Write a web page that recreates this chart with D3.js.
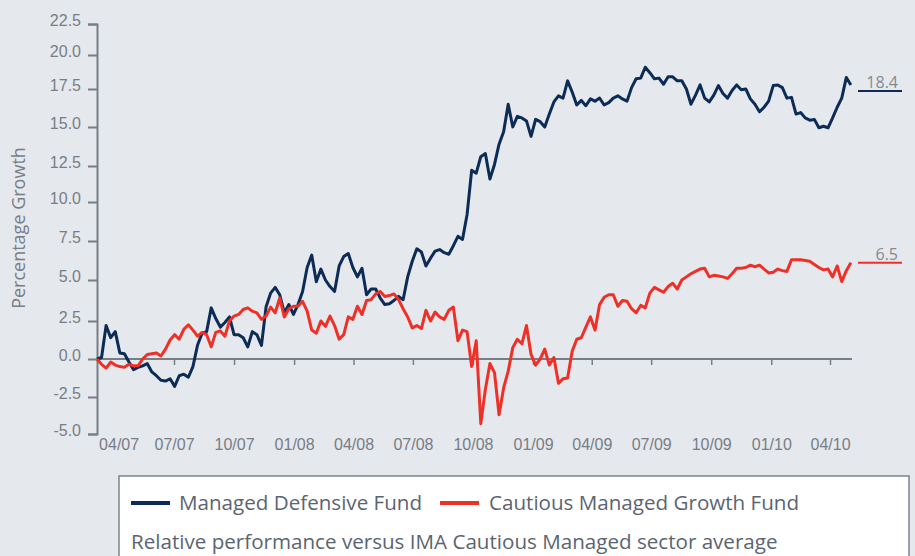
<!DOCTYPE html>
<html>
<head>
<meta charset="utf-8">
<script src="https://cdn.jsdelivr.net/npm/d3@7"></script>
<style>
  body { margin: 0; background: #e5e8ed; }
  svg { display: block; }
</style>
</head>
<body>
<div id="chart"></div>
<script>
// weekly readings, first week starting 5 March 2007
var startDate = new Date(2007, 2, 5);

var defensive = [
  0, 0.1, 2.2, 1.4, 1.8, 0.4, 0.35, -0.2, -0.7, -0.55,
  -0.45, -0.3, -0.85, -1.1, -1.4, -1.45, -1.3, -1.8, -1.1, -1.0,
  -1.2, -0.5, 0.9, 1.7, 1.8, 3.3, 2.65, 2.1, 2.4, 2.75,
  1.6, 1.6, 1.4, 0.8, 1.8, 1.6, 0.9, 3.35, 4.2, 4.55,
  4.1, 3.0, 3.5, 2.9, 3.5, 4.3, 5.8, 6.6, 4.9, 5.7,
  5.0, 4.6, 4.3, 5.9, 6.5, 6.7, 5.8, 5.2, 5.75, 4.1,
  4.45, 4.45, 3.9, 3.5, 3.55, 3.75, 4.0, 3.8, 5.2, 6.2,
  7.0, 6.8, 5.9, 6.4, 6.85, 6.95, 6.75, 6.65, 7.2, 7.8,
  7.6, 9.2, 12.2, 12.0, 13.1, 13.3, 11.6, 12.6, 13.9, 14.7,
  16.5, 15.0, 15.7, 15.6, 15.4, 14.4, 15.5, 15.35, 15.0, 15.85,
  16.65, 17.05, 16.9, 18.1, 17.3, 16.45, 16.75, 16.4, 16.85, 16.7,
  16.9, 16.45, 16.6, 16.9, 17.05, 16.85, 16.7, 17.6, 18.25, 18.3,
  19.1, 18.7, 18.25, 18.3, 17.85, 18.4, 18.4, 18.1, 18.1, 17.5,
  16.5, 17.1, 17.8, 16.9, 16.65, 17.1, 17.75, 17.2, 16.9, 17.4,
  17.8, 17.45, 17.5, 16.85, 16.5, 16.0, 16.3, 16.7, 17.75, 17.8,
  17.6, 16.9, 16.95, 15.85, 15.95, 15.6, 15.45, 15.5, 14.95, 15.05,
  14.95, 15.6, 16.3, 16.9, 18.35, 17.8
];

var cautious = [
  0, -0.35, -0.6, -0.2, -0.4, -0.5, -0.55, -0.35, -0.45, -0.45,
  0, 0.3, 0.35, 0.4, 0.2, 0.65, 1.25, 1.6, 1.3, 1.95,
  2.25, 1.9, 1.5, 1.75, 1.6, 0.8, 1.75, 1.85, 1.5, 2.5,
  2.8, 2.9, 3.2, 3.3, 3.1, 3.0, 2.6, 2.8, 3.35, 3.0,
  3.9, 2.75, 3.25, 3.4, 3.4, 3.7, 3.1, 1.9, 1.7, 2.5,
  2.15, 2.8, 2.2, 1.3, 1.6, 2.75, 2.6, 3.4, 2.9, 3.75,
  3.8, 4.15, 4.3, 4.0, 4.05, 4.15, 3.8, 3.25, 2.75, 2.05,
  2.2, 2.0, 3.15, 2.5, 3.05, 2.75, 2.6, 3.15, 3.35, 1.2,
  1.9, 1.8, -0.5, 1.2, -4.3, -2.0, -0.3, -0.9, -3.7, -1.9,
  -0.8, 0.75, 1.3, 1.0, 2.2, 0.3, -0.4, 0.0, 0.65, -0.4,
  0.1, -1.6, -1.3, -1.25, 0.5, 1.3, 1.4, 2.1, 2.75, 1.9,
  3.5, 3.95, 4.1, 4.1, 3.4, 3.75, 3.7, 3.25, 3.0, 3.45,
  3.3, 4.2, 4.55, 4.4, 4.25, 4.6, 4.8, 4.45, 5.0, 5.2,
  5.4, 5.55, 5.7, 5.75, 5.2, 5.3, 5.25, 5.2, 5.1, 5.4,
  5.75, 5.75, 5.8, 5.95, 5.85, 5.95, 5.7, 5.45, 5.5, 5.7,
  5.6, 5.55, 6.3, 6.3, 6.3, 6.25, 6.2, 6.0, 5.8, 5.65,
  5.7, 5.2, 5.9, 4.9, 5.6, 6.1
];

var yTicks = [-5, -2.5, 0, 2.5, 5, 7.5, 10, 12.5, 15, 17.5, 20, 22.5];
var endLabels = ["18.4", "6.5"];
var seriesNames = ["Managed Defensive Fund", "Cautious Managed Growth Fund"];
var footnote = "Relative performance versus IMA Cautious Managed sector average";

var navy = "#0c2c55",
  red = "#ee3027",
  grey = "#787e85";

var width = 915,
  height = 556;

var svg = d3.select("#chart")
  .append("svg")
  .attr("width", width)
  .attr("height", height)
  .style("font-family", "'Open Sans', sans-serif");

svg.append("rect")
  .attr("width", width)
  .attr("height", height)
  .attr("fill", "#e5e8ed");

var x = d3.scaleTime()
  .domain([new Date(2007, 6, 1), new Date(2010, 3, 1)])
  .range([174, 830]);

// the printed axis is not evenly spaced, so map each tick to where it sits
var y = d3.scaleLinear()
  .domain(yTicks)
  .range([434, 397, 359, 321, 280, 241, 202, 166, 127, 89, 55, 24]);

var dates = defensive.map(function (d, i) { return d3.timeDay.offset(startDate, 7 * i); });

// y axis
var yAxis = svg.append("g")
  .attr("transform", "translate(97,0)")
  .call(d3.axisLeft(y)
    .tickValues(yTicks)
    .tickSizeInner(9)
    .tickSizeOuter(9)
    .tickPadding(7)
    .tickFormat(function (d) { return d.toFixed(1); }));

yAxis.select(".domain").attr("stroke", grey).attr("stroke-width", 2);
yAxis.selectAll(".tick line").attr("stroke", grey).attr("stroke-width", 2);
yAxis.selectAll(".tick text")
  .attr("fill", grey)
  .attr("dy", "0.1em")
  .style("font-size", "16px");

svg.append("text")
  .attr("transform", "translate(25,228) rotate(-90)")
  .attr("text-anchor", "middle")
  .attr("fill", grey)
  .style("font-size", "18px")
  .text("Percentage Growth");

// zero line with quarter ticks
svg.append("line")
  .attr("x1", 97)
  .attr("x2", 852)
  .attr("y1", y(0))
  .attr("y2", y(0))
  .attr("stroke", grey)
  .attr("stroke-width", 2);

var quarters = d3.timeMonth.every(3).range(new Date(2007, 3, 1), new Date(2010, 3, 2));

var xTicks = svg.append("g")
  .attr("transform", "translate(0," + y(0) + ")")
  .call(d3.axisBottom(x).tickValues(quarters.slice(1)).tickSize(6).tickFormat(""));
xTicks.select(".domain").remove();
xTicks.selectAll(".tick line").attr("stroke", grey).attr("stroke-width", 1.5);

var xLabels = svg.append("g")
  .attr("transform", "translate(0,434)")
  .call(d3.axisBottom(x).tickValues(quarters).tickSize(0).tickPadding(0)
    .tickFormat(d3.timeFormat("%m/%y")));
xLabels.select(".domain").remove();
xLabels.selectAll(".tick text")
  .attr("fill", grey)
  .attr("dy", "1em")
  .attr("dx", function (d, i) { return i === 0 ? 4 : 0; })
  .style("font-size", "16px");

// lines
var line = d3.line()
  .x(function (d, i) { return x(dates[i]); })
  .y(function (d) { return y(d); });

svg.append("path")
  .datum(defensive)
  .attr("fill", "none")
  .attr("stroke", navy)
  .attr("stroke-width", 3)
  .attr("stroke-linejoin", "round")
  .attr("d", line);

svg.append("path")
  .datum(cautious)
  .attr("fill", "none")
  .attr("stroke", red)
  .attr("stroke-width", 3)
  .attr("stroke-linejoin", "round")
  .attr("d", line);

// end value markers
var ends = [
  { label: endLabels[0], value: defensive[defensive.length - 1], color: navy, shift: 6 },
  { label: endLabels[1], value: cautious[cautious.length - 1], color: red, shift: 0 }
];

ends.forEach(function (e) {
  var yy = y(e.value) + e.shift;
  svg.append("line")
    .attr("x1", 858).attr("x2", 902)
    .attr("y1", yy).attr("y2", yy)
    .attr("stroke", e.color)
    .attr("stroke-width", 2);
  svg.append("text")
    .attr("x", 898)
    .attr("y", yy - 3)
    .attr("text-anchor", "end")
    .attr("fill", "#858a90")
    .style("font-size", "16px")
    .text(e.label);
});

// legend box
svg.append("rect")
  .attr("x", 119)
  .attr("y", 476)
  .attr("width", 790)
  .attr("height", 100)
  .attr("fill", "#ffffff")
  .attr("stroke", "#7d838a")
  .attr("stroke-width", 1.5);

var legendText = "#5b6571";
var swatches = [
  { x: 131, tx: 179, color: navy, name: seriesNames[0] },
  { x: 440, tx: 489, color: red, name: seriesNames[1] }
];

swatches.forEach(function (s) {
  svg.append("line")
    .attr("x1", s.x).attr("x2", s.x + 39)
    .attr("y1", 503).attr("y2", 503)
    .attr("stroke", s.color)
    .attr("stroke-width", 4);
  svg.append("text")
    .attr("x", s.tx)
    .attr("y", 510)
    .attr("fill", legendText)
    .style("font-size", "20.6px")
    .text(s.name);
});

svg.append("text")
  .attr("x", 131)
  .attr("y", 549)
  .attr("fill", legendText)
  .style("font-size", "20.6px")
  .text(footnote);
</script>
</body>
</html>
